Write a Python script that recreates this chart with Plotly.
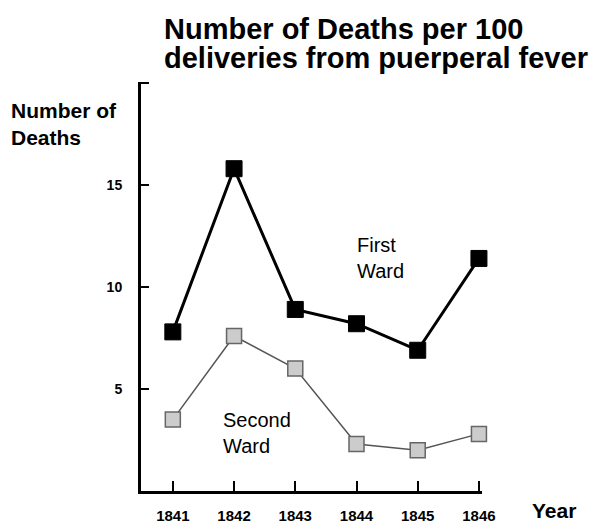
import plotly.graph_objects as go

years = [1841, 1842, 1843, 1844, 1845, 1846]
first_ward = [7.8, 15.8, 8.9, 8.2, 6.9, 11.4]
second_ward = [3.5, 7.6, 6.0, 2.3, 2.0, 2.8]
y_tick_vals = [5, 10, 15, 20]
y_tick_text = ["5", "10", "15", ""]

FONT = "Liberation Sans, Arial, sans-serif"

# plot area in pixels
L, R, T, B = 141, 482, 82, 491
W, H = 596, 523


def px_x(p):
    return (p - L) / (R - L)


def px_y(p):
    return (B - p) / (B - T)


fig = go.Figure()
fig.add_trace(go.Scatter(
    x=years, y=second_ward, mode="lines+markers",
    line=dict(color="#555555", width=1.5),
    marker=dict(symbol="square", size=15, color="#cccccc",
                line=dict(color="#666666", width=1.5)),
    showlegend=False, cliponaxis=False))
fig.add_trace(go.Scatter(
    x=years, y=first_ward, mode="lines+markers",
    line=dict(color="black", width=3),
    marker=dict(symbol="square", size=16, color="black",
                line=dict(color="black", width=1)),
    showlegend=False, cliponaxis=False))

ann = lambda **k: dict(showarrow=False, **k)

fig.update_layout(
    width=W, height=H,
    margin=dict(l=L, r=W - R, t=T, b=H - B, autoexpand=False),
    paper_bgcolor="white", plot_bgcolor="white",
    font=dict(family=FONT, color="black"),
    xaxis=dict(range=[1840.48, 1846.05], showgrid=False, zeroline=False,
               automargin=False,
               showline=True, linecolor="black", linewidth=3,
               tickvals=years, ticktext=[str(y) for y in years],
               ticks="inside", ticklen=10, tickwidth=2, tickcolor="black",
               tickfont=dict(size=15, family=FONT, color="black", weight="bold"),
               ticklabelstandoff=9),
    yaxis=dict(range=[0, 20.05], showgrid=False, zeroline=False,
               automargin=False,
               showline=True, linecolor="black", linewidth=3,
               tickvals=y_tick_vals, ticktext=y_tick_text,
               ticks="inside", ticklen=8, tickwidth=2, tickcolor="black",
               tickfont=dict(size=14, family=FONT, color="black", weight="bold"),
               ticklabelstandoff=13),
    annotations=[
        ann(text="<b>Number of Deaths per 100</b>", xref="paper", yref="paper",
            x=px_x(162), y=px_y(11), xanchor="left", yanchor="top",
            font=dict(size=29, family=FONT, color="black")),
        ann(text="<b>deliveries from puerperal fever</b>", xref="paper", yref="paper",
            x=px_x(162), y=px_y(40), xanchor="left", yanchor="top",
            font=dict(size=29, family=FONT, color="black")),
        ann(text="<b>Year</b>", xref="paper", yref="paper",
            x=px_x(554), y=px_y(497), xanchor="center", yanchor="top",
            font=dict(size=21, family=FONT, color="black")),
        ann(text="<b>Number of<br>Deaths</b>", xref="paper", yref="paper",
            x=px_x(9), y=px_y(97), xanchor="left", yanchor="top", align="left",
            font=dict(size=21, family=FONT, color="black")),
        ann(text="First<br>Ward", xref="x", yref="y",
            x=1843.98, y=(B - 231) / 20.45, xanchor="left", yanchor="top", align="left",
            font=dict(size=20, family=FONT, color="black")),
        ann(text="Second<br>Ward", xref="x", yref="y",
            x=1841.78, y=(B - 407) / 20.45, xanchor="left", yanchor="top", align="left",
            font=dict(size=20, family=FONT, color="black")),
    ],
)

fig.write_html("out.html",
               config={"displayModeBar": False},
               post_script="document.body.style.margin='0';document.body.style.padding='0';")
